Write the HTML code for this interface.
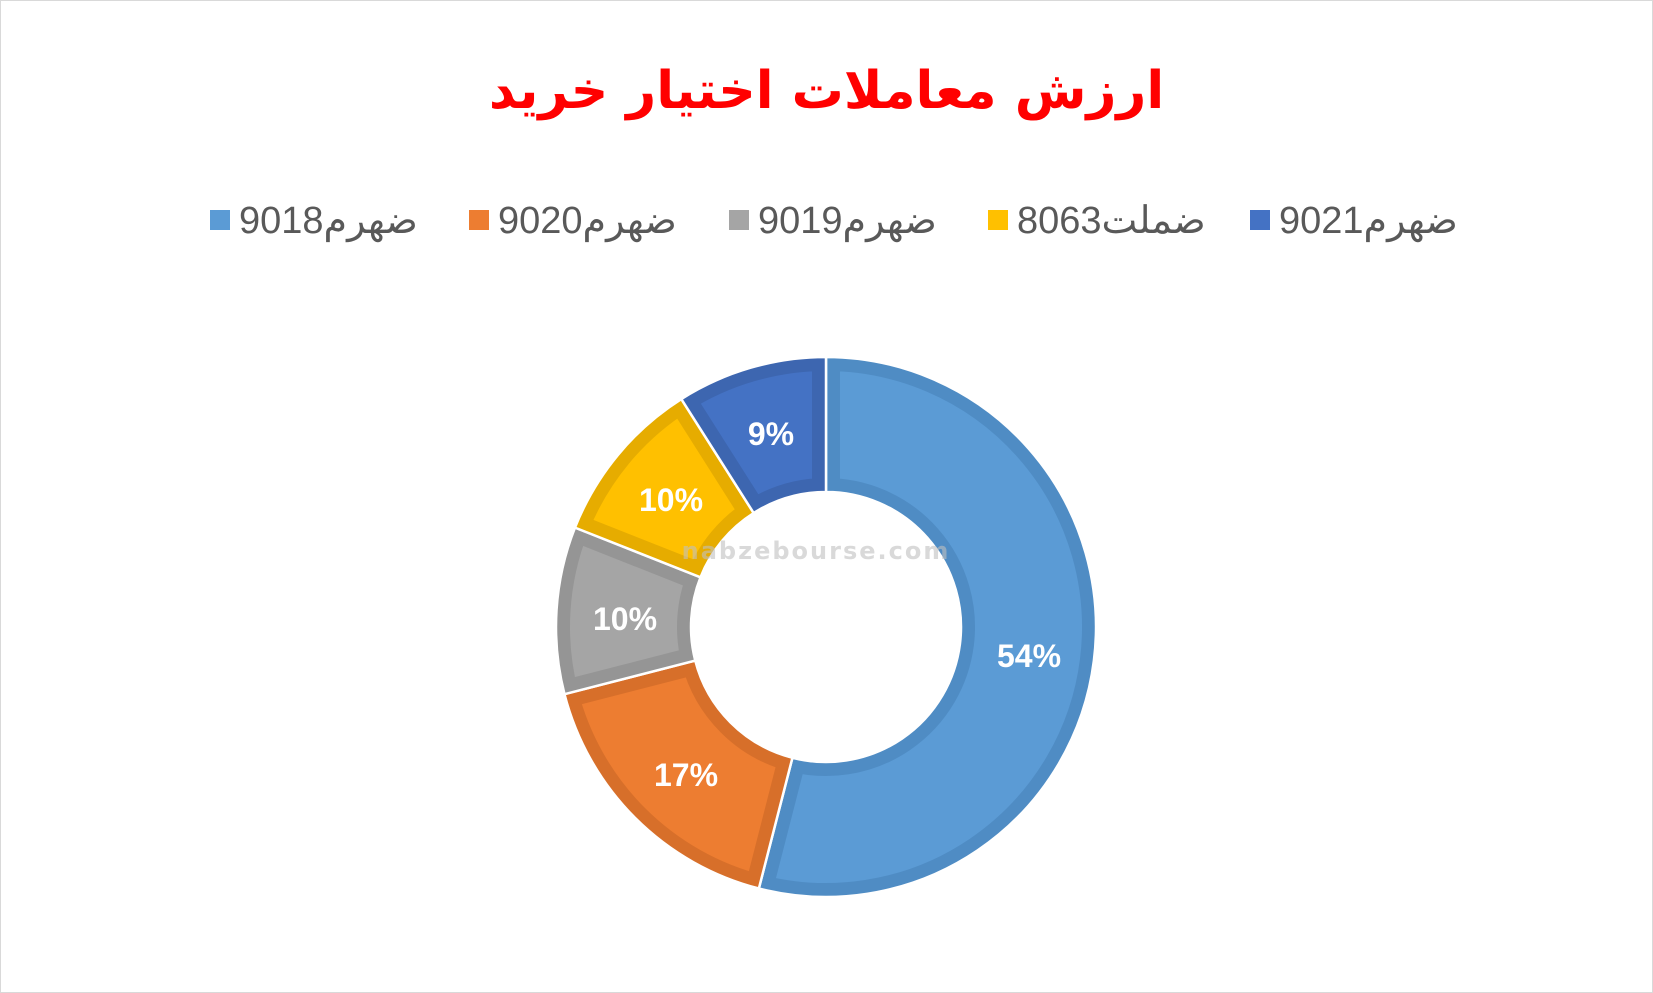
<!DOCTYPE html>
<html><head><meta charset="utf-8"><style>
html,body{margin:0;padding:0;background:#fff}
#c{position:relative;width:1651px;height:991px;border:1px solid #d9d9d9;overflow:hidden;font-family:"Liberation Sans","Noto Sans CJK SC",sans-serif}
.t{position:absolute;left:0;right:0;top:60px;text-align:center;color:#ff0000;font-weight:bold;font-size:52px;font-family:"DejaVu Sans",sans-serif;direction:rtl}
.lg{position:absolute;top:197px;font-size:38px;color:#595959;white-space:nowrap;direction:ltr}
.lg i{display:inline-block;width:20px;height:20px;vertical-align:middle;margin-right:9px;position:relative;top:-3px}
</style></head><body><div id="c">
<div class="t">ارزش معاملات اختیار خرید</div>
<div class="lg" style="left:209px"><i style="background:#5b9bd5"></i>ضهرم9018</div>
<div class="lg" style="left:468px"><i style="background:#ed7d31"></i>ضهرم9020</div>
<div class="lg" style="left:728px"><i style="background:#a5a5a5"></i>ضهرم9019</div>
<div class="lg" style="left:987px"><i style="background:#ffc000"></i>ضملت8063</div>
<div class="lg" style="left:1249px"><i style="background:#4472c4"></i>ضهرم9021</div>
<svg id="s" width="1653" height="993" style="position:absolute;left:0;top:0"></svg>
</div>
<script>
var cx=825,cy=626,R=270,r=135;
var d=[[54,'#5b9bd5','#4f8cc4','54%',1028,654],[17,'#ed7d31','#d76f2a','17%',685,773],[10,'#a5a5a5','#959595','10%',624,617],[10,'#ffc000','#e6ac00','10%',670,498],[9,'#4472c4','#3d66b0','9%',770,432]];
var a=-Math.PI/2,h='<defs>',b='';
function p(a0,a1){var l=(a1-a0)>Math.PI?1:0;
function P(rr,t){return (cx+rr*Math.cos(t)).toFixed(2)+' '+(cy+rr*Math.sin(t)).toFixed(2)}
return 'M'+P(R,a0)+' A'+R+' '+R+' 0 '+l+' 1 '+P(R,a1)+' L'+P(r,a1)+' A'+r+' '+r+' 0 '+l+' 0 '+P(r,a0)+'Z';}
d.forEach(function(s,i){var a1=a+s[0]/100*2*Math.PI;var pp=p(a,a1);
h+='<clipPath id="k'+i+'"><path d="'+pp+'"/></clipPath>';
b+='<path d="'+pp+'" fill="'+s[1]+'" stroke="'+s[2]+'" stroke-width="28" clip-path="url(#k'+i+')"/>';
b+='<path d="'+pp+'" fill="none" stroke="#fff" stroke-width="2.5"/>';
a=a1;});
d.forEach(function(s){b+='<text x="'+s[4]+'" y="'+(s[5]+12)+'" text-anchor="middle" fill="#fff" font-weight="bold" font-size="32" font-family="Liberation Sans,sans-serif">'+s[3]+'</text>';});
b+='<text x="815" y="558" text-anchor="middle" fill="#bfbfbf" fill-opacity="0.6" font-weight="bold" font-size="24" font-family="DejaVu Sans,sans-serif" letter-spacing="2">nabzebourse.com</text>';
document.getElementById('s').innerHTML=h+'</defs>'+b;
</script>
</body></html>
